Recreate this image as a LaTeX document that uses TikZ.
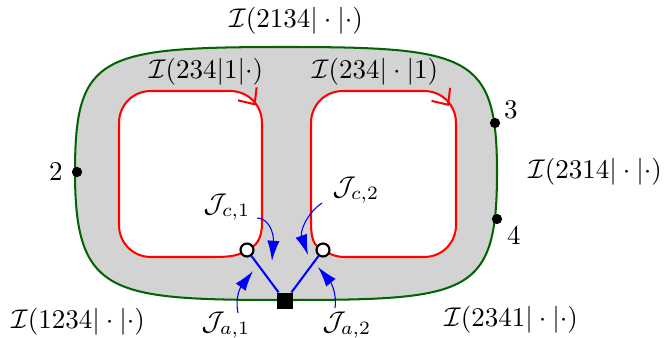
\documentclass[tikz,border=0pt]{standalone}
\usepackage{tikz}
\usetikzlibrary{arrows.meta}
\usepackage{amsmath,amssymb}
\definecolor{bandgray}{RGB}{211, 211, 211}
\definecolor{edgegreen}{RGB}{0, 100, 0}

\begin{document}
\begin{tikzpicture}[x=0.37pt, y=-0.37pt,
    loopline/.style={red, line width=0.75pt, fill=white},
    hole/.style={circle, draw=black, fill=white, line width=0.8pt, inner sep=0pt, minimum size=4.8pt},
    marker/.style={circle, fill=black, inner sep=0pt, minimum size=3.8pt},
    jarrow/.style={blue, line width=0.4pt, -{Latex[length=7.5pt, width=4.5pt]}},
    looptip/.style={red, line width=0.75pt, -{Straight Barb[length=4.7pt, width=8.4pt]}}]
  \useasboundingbox (0,0) rectangle (665,338);

  % ===== 外边界 =====
  \draw[edgegreen, line width=0.75pt, fill=bandgray]
    (75,172) .. controls (75,55) and (100,47) .. (285,47)
    .. controls (470,47) and (497,55) .. (497,172)
    .. controls (497,295) and (470,300) .. (285,300)
    .. controls (110,300) and (75,295) .. (75,172) -- cycle;

  \coordinate (c1) at (247,250);
  \coordinate (c2) at (323,250);

  % ===== 两个红色回路 =====
  \draw[loopline] (c1) .. controls (240,255) and (232,257) .. (215,257)
    -- (151,257) .. controls (133,257) and (119,243) .. (119,225)
    -- (119,123) .. controls (119,105) and (133,91) .. (151,91)
    -- (230,91) .. controls (248,91) and (262,105) .. (262,123)
    -- (262,222) .. controls (262,240) and (256,246) .. (c1) -- cycle;
  \draw[loopline] (c2) .. controls (314,246) and (311,240) .. (311,222)
    -- (311,123) .. controls (311,105) and (325,91) .. (343,91)
    -- (424,91) .. controls (442,91) and (456,105) .. (456,123)
    -- (456,225) .. controls (456,243) and (442,257) .. (424,257)
    -- (345,257) .. controls (336,257) and (329,254) .. (c2) -- cycle;
  \draw[looptip] (254.35,103.86) -- (255.5,105.5);
  \draw[looptip] (447.85,104.36) -- (449,106);

  % ===== 边界上的点 =====
  \node[marker] (p2) at (77,172) {};
  \node[marker] (p3) at (495,123) {};
  \node[marker] (p4) at (497,219) {};
  \node (n2) at (56,172) {$2$};
  \node (n3) at (511,110) {$3$};
  \node (n4) at (514,236) {$4$};

  % ===== 蓝色连线 =====
  \node[hole] (h1) at (c1) {};
  \node[hole] (h2) at (c2) {};
  \node[rectangle, fill=black, inner sep=0pt, minimum size=6pt] (sq) at (285,301) {};
  \draw[blue, line width=0.75pt] (h1) -- (sq);
  \draw[blue, line width=0.75pt] (h2) -- (sq);

  % 电流箭头
  \coordinate (jc1s) at (257,218);
  \coordinate (jc1e) at (272,261);
  \coordinate (jc2s) at (322,203);
  \coordinate (jc2e) at (308,255);
  \coordinate (ja1s) at (238,313);
  \coordinate (ja1e) at (253,271);
  \coordinate (ja2s) at (335,308);
  \coordinate (ja2e) at (318,267);
  \draw[jarrow] (jc1s) .. controls (268,218) and (274,232) .. (jc1e);
  \draw[jarrow] (jc2s) .. controls (306,214) and (300,232) .. (jc2e);
  \draw[jarrow] (ja1s) .. controls (235,298) and (240,288) .. (ja1e);
  \draw[jarrow] (ja2s) .. controls (337,296) and (332,284) .. (ja2e);

  % ===== 标签 =====
  \node (top) at (296,21) {$\mathcal{I}(2134|\cdot|\cdot)$};
  \node (lA) at (206,72) {$\mathcal{I}(234|1|{\cdot})$};
  \node (lB) at (375,72) {$\mathcal{I}(234|\cdot|1)$};
  \node (rgt) at (595,172) {$\mathcal{I}(2314|\cdot|\cdot)$};
  \node (bl) at (78,322) {$\mathcal{I}(1234|\cdot|\cdot)$};
  \node (br) at (511,320) {$\mathcal{I}(2341|\cdot|\cdot)$};
  \node (jc1) at (227,207) {$\mathcal{J}_{c,1}$};
  \node (jc2) at (356,190) {$\mathcal{J}_{c,2}$};
  \node (ja1) at (226,325) {$\mathcal{J}_{a,1}$};
  \node (ja2) at (347,325) {$\mathcal{J}_{a,2}$};
\end{tikzpicture}
\end{document}
